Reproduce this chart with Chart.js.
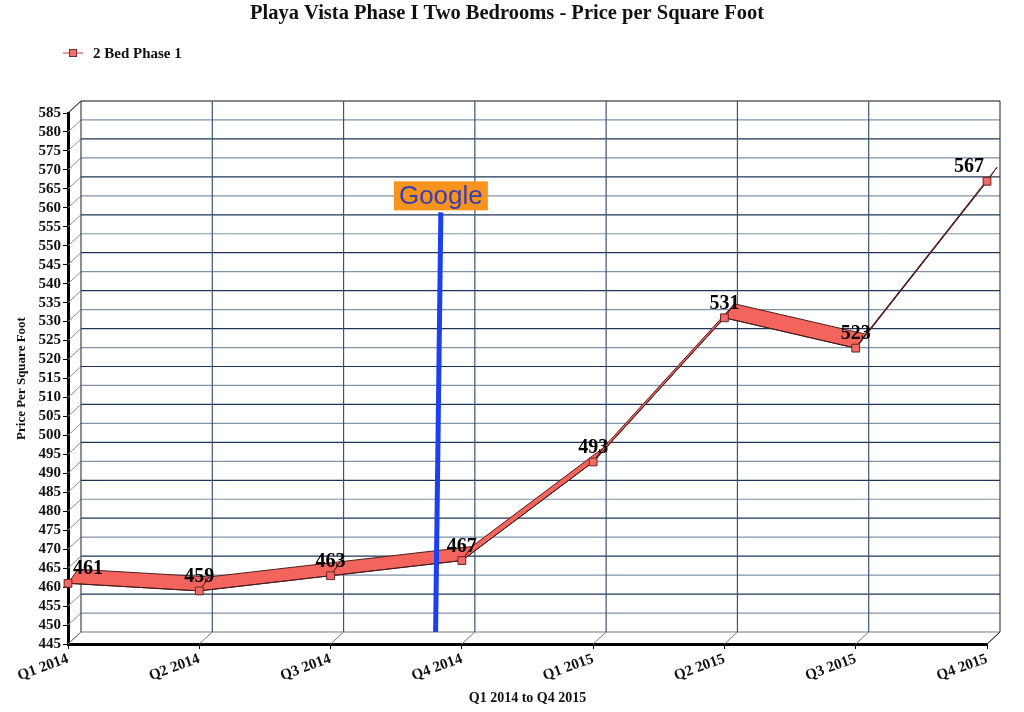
<!DOCTYPE html>
<html>
<head>
<meta charset="utf-8">
<script src="https://cdn.jsdelivr.net/npm/chart.js@4.4.0/dist/chart.umd.min.js"></script>
<style>
  html, body { margin: 0; padding: 0; background: #fff; }
</style>
</head>
<body>
<canvas id="grafico" width="1024" height="712"></canvas>
<script>
// dados
const trimestres = ['Q1 2014', 'Q2 2014', 'Q3 2014', 'Q4 2014', 'Q1 2015', 'Q2 2015', 'Q3 2015', 'Q4 2015'];
const precos = [461, 459, 463, 467, 493, 531, 523, 567];
const eixoMin = 445;
const eixoMax = 585;
const passo = 5;
// marcador "Google" (posição em valores de eixo: indice do trimestre, preço)
const googleBase = [2.8, 445];
const googleTopo = [2.84, 558.8];

const serif = '"Liberation Serif", "Times New Roman", serif';
const fundoDx = 13, fundoDy = -12;   // deslocamento da parede de fundo
const fitaDx = 10, fitaDy = -14;     // profundidade da fita

function linha(ctx, x1, y1, x2, y2, cor, larg) {
    ctx.strokeStyle = cor;
    ctx.lineWidth = larg || 1;
    ctx.beginPath();
    ctx.moveTo(x1, y1);
    ctx.lineTo(x2, y2);
    ctx.stroke();
}

const efeito3d = {
    id: 'efeito3d',
    beforeDatasetsDraw(chart) {
        const { ctx, chartArea: a, scales: { x, y } } = chart;
        ctx.save();

        // grade horizontal na parede de fundo + diagonais da parede lateral
        for (let v = eixoMin; v <= eixoMax; v += passo) {
            const py = y.getPixelForValue(v);
            linha(ctx, a.left, py, a.left + fundoDx, py + fundoDy, '#8a8f96', 1);
            let cor = ((v - eixoMin) / passo) % 2 ? '#7f93a9' : '#1d3656';
            if (v === eixoMax) cor = '#111';
            if (v === eixoMin) cor = '#7a7a7a';
            linha(ctx, a.left + fundoDx, py + fundoDy, a.right + fundoDx, py + fundoDy, cor, 1.2);
        }

        // linhas verticais no fundo + diagonais do piso
        trimestres.forEach((t, i) => {
            const px = x.getPixelForValue(i);
            const cor = (i === 0 || i === trimestres.length - 1) ? '#444' : '#3a5573';
            linha(ctx, px + fundoDx, a.top + fundoDy, px + fundoDx, a.bottom + fundoDy, cor, 1.2);
            linha(ctx, px, a.bottom, px + fundoDx, a.bottom + fundoDy, '#777', 1);
        });
        linha(ctx, a.left, a.top, a.left + fundoDx, a.top + fundoDy, '#222', 1);
        linha(ctx, a.right, a.bottom, a.right + fundoDx, a.bottom + fundoDy, '#222', 1);

        // fita 3D da série
        const pts = chart.getDatasetMeta(0).data;
        ctx.lineJoin = 'round';
        for (let i = 0; i < pts.length - 1; i++) {
            const p = pts[i], q = pts[i + 1];
            ctx.beginPath();
            ctx.moveTo(p.x, p.y);
            ctx.lineTo(q.x, q.y);
            ctx.lineTo(q.x + fitaDx, q.y + fitaDy);
            ctx.lineTo(p.x + fitaDx, p.y + fitaDy);
            ctx.closePath();
            ctx.fillStyle = '#f2645c';
            ctx.fill();
            ctx.strokeStyle = '#4f1e1e';
            ctx.lineWidth = 1;
            ctx.stroke();
        }
        ctx.restore();
    },
    afterDatasetsDraw(chart) {
        const { ctx, scales: { x, y } } = chart;
        ctx.save();

        // linha azul do Google
        const bx = x.getPixelForValue(googleBase[0]);
        const by = y.getPixelForValue(googleBase[1]) + fundoDy;
        const tx = x.getPixelForValue(googleTopo[0]);
        const ty = y.getPixelForValue(googleTopo[1]);
        linha(ctx, bx, by, tx, ty, '#1c3ff2', 5);

        // caixa "Google"
        ctx.font = '26px "Liberation Sans", Arial, sans-serif';
        const w = 94, h = 29;
        ctx.fillStyle = '#f7941d';
        ctx.fillRect(tx - w / 2, ty - h - 2, w, h);
        ctx.fillStyle = '#3b3db3';
        ctx.textAlign = 'center';
        ctx.textBaseline = 'middle';
        ctx.fillText('Google', tx, ty - h / 2 - 1);

        // rótulos dos valores
        const pts = chart.getDatasetMeta(0).data;
        ctx.font = 'bold 20px ' + serif;
        ctx.fillStyle = '#000';
        ctx.textBaseline = 'alphabetic';
        pts.forEach((p, i) => {
            if (i === 0) {
                ctx.textAlign = 'left';
                ctx.fillText(precos[i], p.x + 5, p.y - 9);
            } else if (i === pts.length - 1) {
                ctx.textAlign = 'right';
                ctx.fillText(precos[i], p.x - 3, p.y - 9);
            } else {
                ctx.textAlign = 'center';
                ctx.fillText(precos[i], p.x, p.y - 9);
            }
        });

        // título
        ctx.font = 'bold 20.5px ' + serif;
        ctx.textAlign = 'center';
        ctx.fillStyle = '#111';
        ctx.fillText('Playa Vista Phase I Two Bedrooms - Price per Square Foot', 507, 19);

        // legenda
        linha(ctx, 63, 53, 83, 53, '#d97b7b', 1.5);
        ctx.fillStyle = '#f07070';
        ctx.fillRect(69, 49, 8, 8);
        ctx.strokeStyle = '#7a2a2a';
        ctx.lineWidth = 1;
        ctx.strokeRect(69.5, 49.5, 7, 7);
        ctx.font = 'bold 15px ' + serif;
        ctx.fillStyle = '#111';
        ctx.textAlign = 'left';
        ctx.fillText('2 Bed Phase 1', 93, 58);

        ctx.restore();
    }
};

new Chart(document.getElementById('grafico'), {
    type: 'line',
    data: {
        labels: trimestres,
        datasets: [{
            label: '2 Bed Phase 1',
            data: precos,
            borderColor: '#4a1b1b',
            borderWidth: 1,
            pointStyle: 'rect',
            pointRadius: 5.5,
            pointBackgroundColor: '#f06a66',
            pointBorderColor: '#6e2424',
            pointBorderWidth: 1,
            tension: 0,
            clip: false
        }]
    },
    options: {
        responsive: false,
        animation: false,
        layout: { padding: { top: 113, right: 37, left: 0, bottom: 0 } },
        plugins: {
            legend: { display: false },
            title: { display: false },
            tooltip: { enabled: false }
        },
        scales: {
            x: {
                offset: false,
                grid: { display: true, drawOnChartArea: false, tickLength: 5, color: '#000', offset: false },
                border: { display: true, color: '#000', width: 3 },
                ticks: {
                    autoSkip: false,
                    minRotation: 20,
                    maxRotation: 20,
                    padding: 1,
                    color: '#111',
                    font: { family: serif, size: 15, weight: 'bold' }
                },
                title: {
                    display: true,
                    text: 'Q1 2014 to Q4 2015',
                    color: '#111',
                    padding: { top: 0, bottom: 5 },
                    font: { family: serif, size: 14, weight: 'bold' }
                },
                afterFit(scale) { scale.height = 68; }
            },
            y: {
                min: eixoMin,
                max: eixoMax,
                grid: { display: true, drawOnChartArea: false, tickLength: 5, color: '#000' },
                border: { display: true, color: '#000', width: 3 },
                ticks: {
                    stepSize: passo,
                    autoSkip: false,
                    padding: 2,
                    color: '#111',
                    font: { family: serif, size: 15, weight: 'bold' }
                },
                title: {
                    display: true,
                    text: 'Price Per Square Foot',
                    color: '#111',
                    padding: { top: 14, bottom: 0 },
                    font: { family: serif, size: 13, weight: 'bold' }
                },
                afterFit(scale) { scale.width = 68; }
            }
        }
    },
    plugins: [efeito3d]
});
</script>
</body>
</html>
